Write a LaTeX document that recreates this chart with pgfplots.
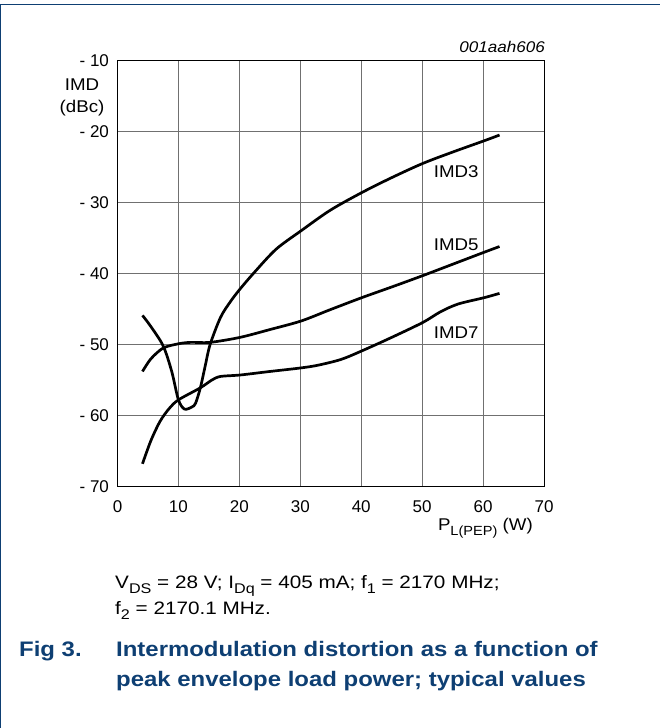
\documentclass[border=0pt]{standalone}
\usepackage{fontspec}
\setmainfont{Liberation Sans}
\newfontfamily\capfont[FakeStretch=1.15]{Liberation Sans}
\newfontfamily\capfontb[FakeStretch=1.14]{Liberation Sans Bold}
\newfontfamily\labfont[FakeStretch=1.1]{Liberation Sans}
\usepackage{pgfplots}
\pgfplotsset{compat=1.18}
\definecolor{nxpblue}{HTML}{0E3F73}
\definecolor{gridgray}{HTML}{707070}
\newcommand{\sub}[1]{\raisebox{-0.25em}{\scalebox{0.78}{#1}}}

\pgfplotstableread{
x y
4.1 -45.9
5.5 -47.5
7.5 -50.2
8.9 -53.8
10.0 -57.8
11.0 -59.1
12.2 -58.8
12.8 -58.3
13.6 -56.1
14.4 -53.0
15.2 -50.0
16.9 -46.2
18.5 -44.0
20.1 -42.2
22.4 -39.9
26.0 -36.6
30.1 -34.0
34.9 -31.1
40.1 -28.6
45.0 -26.5
50.1 -24.5
55.0 -22.9
60.2 -21.3
62.7 -20.5
}\imdthree

\pgfplotstableread{
x y
4.1 -53.8
5.5 -52.0
7.5 -50.5
10.0 -49.9
12.0 -49.7
15.2 -49.7
20.1 -49.0
25.0 -47.9
30.1 -46.7
34.9 -45.1
40.1 -43.4
45.0 -41.9
50.1 -40.3
55.0 -38.7
60.2 -37.0
62.7 -36.2
}\imdfive

\pgfplotstableread{
x y
4.1 -66.8
5.5 -63.5
7.0 -60.8
8.5 -59.0
10.0 -57.8
13.6 -56.1
15.5 -55.0
16.9 -54.5
20.1 -54.3
25.0 -53.8
30.1 -53.3
33.0 -52.9
36.7 -52.1
40.1 -50.9
45.0 -49.0
50.1 -46.9
53.0 -45.4
55.9 -44.3
60.2 -43.4
62.7 -42.8
}\imdseven

\begin{document}
\begin{tikzpicture}
\useasboundingbox (0,0) rectangle (660pt,728pt);
% frame lines (top and left)
\draw[nxpblue, line width=1.2pt] (0.6pt,0) -- (0.6pt,723.5pt) -- (660pt,723.5pt);

\begin{axis}[
    at={(117.5pt,241.5pt)}, anchor=south west,
    scale only axis, width=426.5pt, height=426pt,
    xmin=0, xmax=70, ymin=-70, ymax=-10,
    xtick={0,10,...,70}, ytick={-70,-60,...,-10},
    xticklabels={0,10,20,30,40,50,60,70},
    yticklabels={- 70,- 60,- 50,- 40,- 30,- 20,- 10},
    major tick length=0pt,
    grid=major,
    grid style={gridgray, line width=1pt},
    axis line style={black, line width=1pt},
    tick label style={font=\fontsize{17}{17}\selectfont},
    yticklabel style={xshift=-5pt},
    xticklabel style={yshift=-10.5pt},
    clip=false,
]
\addplot[black, line width=2.7pt, smooth] table {\imdthree};
\addplot[black, line width=2.7pt, smooth] table {\imdfive};
\addplot[black, line width=2.7pt, smooth] table {\imdseven};
\node[font=\labfont\fontsize{17}{17}\selectfont] at (axis cs:55.6,-25.7) {IMD3};
\node[font=\labfont\fontsize{17}{17}\selectfont] at (axis cs:55.6,-35.9) {IMD5};
\node[font=\labfont\fontsize{17}{17}\selectfont] at (axis cs:55.6,-48.4) {IMD7};
\end{axis}

\node[font=\labfont\fontsize{17}{17}\selectfont] at (82pt,643pt) {IMD};
\node[font=\labfont\fontsize{17}{17}\selectfont] at (82pt,620pt) {(dBc)};
\node[font=\labfont\itshape\fontsize{15.5}{15.5}\selectfont, anchor=base east, inner sep=0pt] at (545pt,675pt) {001aah606};
\node[font=\labfont\fontsize{17}{17}\selectfont, anchor=base east, inner sep=0pt] at (533pt,197pt) {P\sub{L(PEP)} (W)};

\node[font=\capfont\fontsize{18}{20}\selectfont, anchor=base west, inner sep=0pt] at (115pt,139pt) {V\sub{DS} = 28 V; I\sub{Dq} = 405 mA; f\sub{1} = 2170 MHz;};
\node[font=\capfont\fontsize{18}{20}\selectfont, anchor=base west, inner sep=0pt] at (115pt,113pt) {f\sub{2} = 2170.1 MHz.};
\node[font=\capfontb\fontsize{21}{21}\selectfont, text=nxpblue, anchor=base west, inner sep=0pt] at (19pt,71pt) {Fig 3.};
\node[font=\capfontb\fontsize{21}{21}\selectfont, text=nxpblue, anchor=base west, inner sep=0pt] at (116pt,71pt) {Intermodulation distortion as a function of};
\node[font=\capfontb\fontsize{21}{21}\selectfont, text=nxpblue, anchor=base west, inner sep=0pt] at (116pt,41pt) {peak envelope load power; typical values};
\end{tikzpicture}
\end{document}
